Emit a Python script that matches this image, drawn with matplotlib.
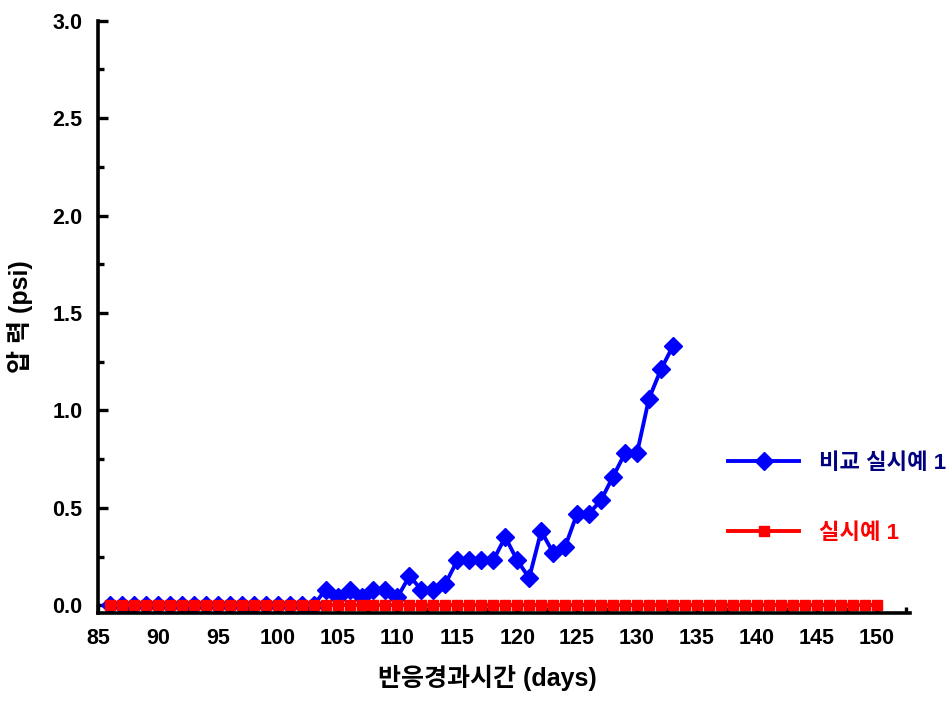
import matplotlib
matplotlib.use('Agg')
import matplotlib.pyplot as plt
from matplotlib.ticker import MultipleLocator

plt.rcParams['font.family'] = ['Liberation Sans', 'Noto Sans CJK KR', 'DejaVu Sans']
plt.rcParams['font.weight'] = 'bold'

# 비교 실시예 1 (days 86-133)
days_cmp = list(range(86, 134))
pressure_cmp = [0.0] * 18 + [
    0.08, 0.04, 0.08, 0.04, 0.08, 0.08, 0.04, 0.15, 0.08, 0.08,
    0.11, 0.23, 0.23, 0.23, 0.23, 0.35, 0.23, 0.14, 0.38, 0.27,
    0.30, 0.47, 0.47, 0.54, 0.66, 0.78, 0.78, 1.06, 1.21, 1.33,
]

# 실시예 1 (days 86-150)
days_ex = list(range(86, 151))
pressure_ex = [0.0] * len(days_ex)

fig = plt.figure(figsize=(9.47, 7.06), dpi=100)
ax = fig.add_axes([0.1035, 0.1317, 0.8575, 0.839])

ax.plot(days_cmp, pressure_cmp, color='#0000ff', linewidth=2.8, marker='D',
        markersize=9, label='비교 실시예 1')
ax.plot(days_ex, pressure_ex, color='#ff0000', linewidth=2.8, marker='s',
        markersize=7, label='실시예 1')

ax.set_xlim(85, 152.8)
ax.set_ylim(-0.04, 3.0)
ax.xaxis.set_major_locator(MultipleLocator(5))
ax.xaxis.set_minor_locator(MultipleLocator(2.5))
ax.yaxis.set_major_locator(MultipleLocator(0.5))
ax.yaxis.set_minor_locator(MultipleLocator(0.25))
ax.yaxis.set_major_formatter(matplotlib.ticker.FormatStrFormatter('%.1f'))

for s in ['top', 'right']:
    ax.spines[s].set_visible(False)
for s in ['left', 'bottom']:
    ax.spines[s].set_linewidth(2.6)

ax.tick_params(which='major', direction='in', length=7, width=2.4, labelsize=15.5, pad=11)
ax.tick_params(which='minor', direction='in', length=4, width=2.4)
for lab in ax.get_xticklabels() + ax.get_yticklabels():
    lab.set_fontweight('bold')

ax.set_xlabel('반응경과시간 (days)', fontsize=18, fontweight='bold', labelpad=12)
ax.xaxis.set_label_coords(0.48, -0.087)
ax.set_ylabel('압 력 (psi)', fontsize=18, fontweight='bold', labelpad=14)

leg = fig.legend(loc='upper left', bbox_to_anchor=(0.757, 0.374), frameon=False,
                 fontsize=16, handlelength=3.2, handletextpad=0.9,
                 labelspacing=2.2, borderpad=0)
leg.get_texts()[0].set_color('#000080')
leg.get_texts()[1].set_color('#ff0000')

fig.savefig('out.png', dpi=100)
